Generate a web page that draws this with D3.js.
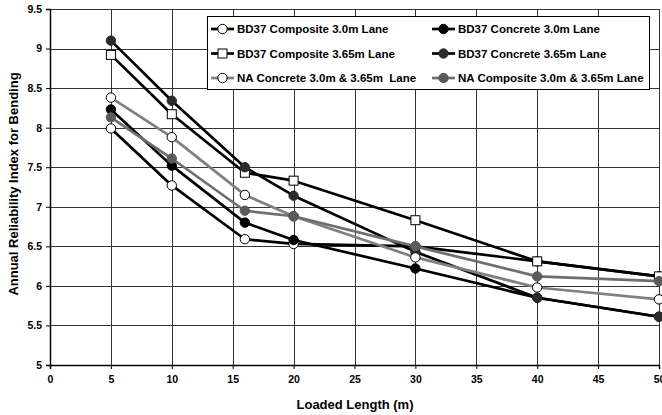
<!DOCTYPE html>
<html>
<head>
<meta charset="utf-8">
<script src="https://cdn.jsdelivr.net/npm/d3@7"></script>
<style>
  body { margin: 0; background: #fff; }
  text { font-family: "Liberation Sans", Arial, sans-serif; font-weight: bold; fill: #000; }
</style>
</head>
<body>
<div class="chart"></div>
<script>
const lengths = [5, 10, 16, 20, 30, 40, 50];
const seriesNames = [
  "BD37 Composite 3.0m Lane",
  "BD37 Concrete 3.0m Lane",
  "BD37 Composite 3.65m Lane",
  "BD37 Concrete 3.65m Lane",
  "NA Concrete 3.0m & 3.65m  Lane",
  "NA Composite 3.0m & 3.65m Lane"
];
const bd37Comp30 = [7.99, 7.27, 6.59, 6.53, 6.50, 6.31, 6.12];
const bd37Conc30 = [8.23, 7.52, 6.80, 6.58, 6.22, 5.85, 5.61];
const bd37Comp365 = [8.92, 8.17, 7.43, 7.33, 6.83, 6.31, 6.12];
const bd37Conc365 = [9.10, 8.34, 7.50, 7.14, 6.43, 5.85, 5.61];
const naConc = [8.38, 7.88, 7.15, 6.88, 6.36, 5.98, 5.83];
const naComp = [8.13, 7.61, 6.95, 6.88, 6.50, 6.12, 6.06];
const xTicks = [0, 5, 10, 15, 20, 25, 30, 35, 40, 45, 50];
const yTicks = [5, 5.5, 6, 6.5, 7, 7.5, 8, 8.5, 9, 9.5];

// look of each series: line colour, marker shape, marker fill
const styles = [
  {line: "#000", shape: "circle", fill: "#fff"},
  {line: "#000", shape: "circle", fill: "#000"},
  {line: "#000", shape: "square", fill: "#fff"},
  {line: "#000", shape: "circle", fill: "#2a2a2a"},
  {line: "#808080", shape: "circle", fill: "#fff"},
  {line: "#6e6e6e", shape: "circle", fill: "#5a5a5a"}
];
const allValues = [bd37Comp30, bd37Conc30, bd37Comp365, bd37Conc365, naConc, naComp];

const svgWidth = 662, svgHeight = 415;
let plot = {left: 50, right: 659, top: 9, bottom: 365};

let svg = d3.select(".chart")
  .append("svg")
  .attr("width", svgWidth)
  .attr("height", svgHeight);

let xScale = d3.scaleLinear()
  .domain([0, 50])
  .range([plot.left, plot.right]);

let yScale = d3.scaleLinear()
  .domain([5, 9.5])
  .range([plot.bottom, plot.top]);

// grid
let grid = svg.append("g").attr("class", "grid")
  .attr("stroke", "#333")
  .attr("stroke-width", 1)
  .attr("shape-rendering", "crispEdges");

grid.selectAll(".hline")
  .data(yTicks.slice(1))
  .enter()
  .append("line")
  .attr("x1", plot.left)
  .attr("x2", plot.right)
  .attr("y1", (d) => Math.round(yScale(d)) + 0.5)
  .attr("y2", (d) => Math.round(yScale(d)) + 0.5);

grid.selectAll(".vline")
  .data(xTicks.slice(1))
  .enter()
  .append("line")
  .attr("y1", plot.top)
  .attr("y2", plot.bottom)
  .attr("x1", (d) => Math.round(xScale(d)) + 0.5)
  .attr("x2", (d) => Math.round(xScale(d)) + 0.5);

// axes
let xAxis = d3.axisBottom(xScale)
  .tickValues(xTicks)
  .tickSize(4)
  .tickPadding(7)
  .tickFormat(d3.format("d"));

let yAxis = d3.axisLeft(yScale)
  .tickValues(yTicks)
  .tickSize(4)
  .tickPadding(4)
  .tickFormat((d) => d);

let gx = svg.append("g")
  .attr("class", "x-axis")
  .attr("transform", `translate(0, ${plot.bottom})`)
  .call(xAxis);

let gy = svg.append("g")
  .attr("class", "y-axis")
  .attr("transform", `translate(${plot.left}, 0)`)
  .call(yAxis);

[gx, gy].forEach((g) => {
  g.selectAll("path").attr("stroke", "#000").attr("stroke-width", 1.5);
  g.selectAll("line").attr("stroke", "#000");
  g.selectAll("text").attr("font-size", 10.5).attr("font-family", null);
});

svg.append("text")
  .attr("x", 355)
  .attr("y", 409)
  .attr("text-anchor", "middle")
  .attr("font-size", 13)
  .text("Loaded Length (m)");

svg.append("text")
  .attr("transform", `translate(18, 184) rotate(-90)`)
  .attr("text-anchor", "middle")
  .attr("font-size", 13)
  .text("Annual Reliability Index for Bending");

// series
let line = d3.line()
  .x((d) => xScale(d.x))
  .y((d) => yScale(d.y));

let seriesData = allValues.map((vals, i) => ({
  name: seriesNames[i],
  style: styles[i],
  points: vals.map((v, j) => ({x: lengths[j], y: v}))
}));

let gSeries = svg.append("g").attr("class", "series")
  .selectAll("g")
  .data(seriesData)
  .enter()
  .append("g");

gSeries.append("path")
  .attr("d", (d) => line(d.points))
  .attr("fill", "none")
  .attr("stroke", (d) => d.style.line)
  .attr("stroke-width", 2.7)
  .attr("stroke-linejoin", "round");

function drawMarker(sel, cx, cy, style) {
  if (style.shape === "square") {
    sel.append("rect")
      .attr("x", cx - 4.5)
      .attr("y", cy - 4.5)
      .attr("width", 9)
      .attr("height", 9)
      .attr("fill", style.fill)
      .attr("stroke", "#000")
      .attr("stroke-width", 1);
  } else {
    sel.append("circle")
      .attr("cx", cx)
      .attr("cy", cy)
      .attr("r", 4.7)
      .attr("fill", style.fill)
      .attr("stroke", style.fill === "#fff" ? "#000" : style.fill)
      .attr("stroke-width", 1);
  }
}

gSeries.each(function (d) {
  let g = d3.select(this);
  d.points.forEach((p) => drawMarker(g, xScale(p.x), yScale(p.y), d.style));
});

// legend
let legend = svg.append("g").attr("class", "legend");
legend.append("rect")
  .attr("x", 207.5)
  .attr("y", 16.5)
  .attr("width", 442)
  .attr("height", 73)
  .attr("fill", "#fff")
  .attr("stroke", "#000")
  .attr("stroke-width", 1);

seriesData.forEach((d, i) => {
  let col = i % 2, row = Math.floor(i / 2);
  let x0 = col === 0 ? 211 : 432;
  let y0 = 29 + row * 24.5;
  let item = legend.append("g");
  item.append("line")
    .attr("x1", x0)
    .attr("x2", x0 + 23)
    .attr("y1", y0)
    .attr("y2", y0)
    .attr("stroke", d.style.line)
    .attr("stroke-width", 2.7);
  drawMarker(item, x0 + 11.5, y0, d.style);
  item.append("text")
    .attr("x", x0 + 26)
    .attr("y", y0 + 4)
    .attr("font-size", 11.5)
    .style("white-space", "pre")
    .text(d.name);
});
</script>
</body>
</html>
